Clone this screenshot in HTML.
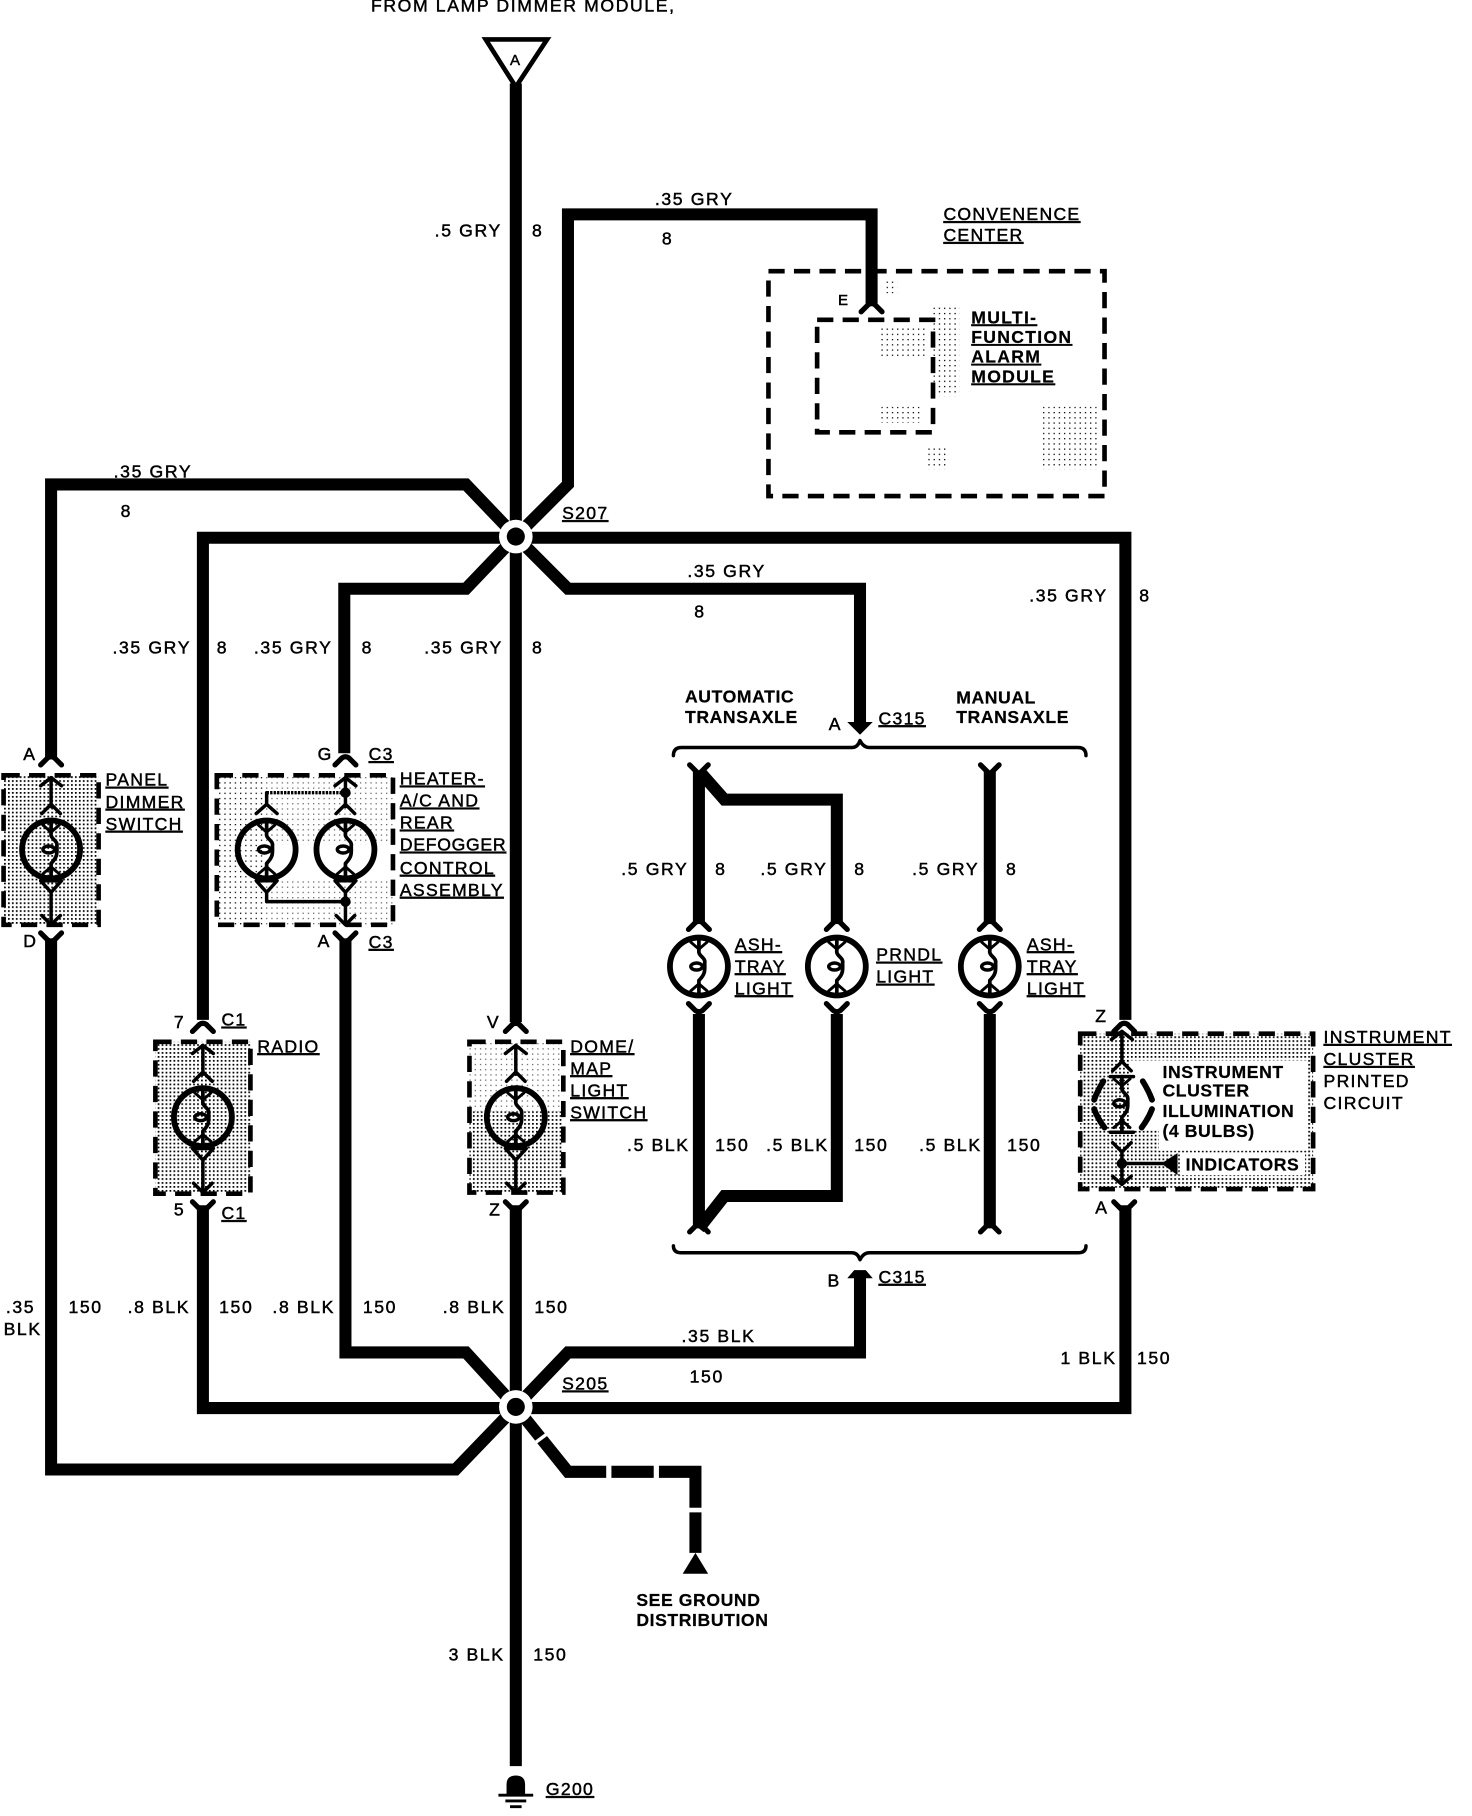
<!DOCTYPE html>
<html><head><meta charset="utf-8"><style>
html,body{margin:0;padding:0;background:#fff}
svg{display:block}
text{font-family:"Liberation Sans",sans-serif;font-size:15.2px;letter-spacing:1.4px;fill:#000;stroke:#000;stroke-width:.4px}
.b{font-weight:bold;letter-spacing:.5px;stroke-width:.2px}
.u{letter-spacing:1.1px;text-decoration:underline;text-underline-offset:3px;text-decoration-thickness:2px}
.w{fill:none;stroke:#000;stroke-width:10.4}
.t{fill:none;stroke:#000;stroke-width:3;stroke-linecap:round;stroke-linejoin:round}
.c{fill:none;stroke:#000;stroke-width:4.5;stroke-linecap:round;stroke-linejoin:round}
.d{fill:none;stroke:#000;stroke-width:4;stroke-dasharray:14 8}
</style></head><body>
<svg xmlns="http://www.w3.org/2000/svg" width="1472" height="1816" viewBox="0 0 1270 1567">
<defs>
<pattern id="dots" width="3.4" height="3.4" patternUnits="userSpaceOnUse"><rect width="3.4" height="3.4" fill="#fff"/><rect x="0" y="0" width="1.5" height="1.5" fill="#000"/></pattern>
<pattern id="sparse" width="4.5" height="4.5" patternUnits="userSpaceOnUse"><rect x="0" y="0" width="1.1" height="1.1" fill="#000"/></pattern>
<path id="cu" class="c" d="M-9,5 L-3,-1 Q0,-3 3,-1 L9,5"/>
<path id="cd" class="c" d="M-9,-5 L-3,1 Q0,3 3,1 L9,-5"/>
<g id="fil">
<path class="t" d="M0,-23 V-14 C-1,-9 6,-8 5,-3 C5,3 6,6 0,12 V23" style="stroke-width:3.2"/>
<ellipse cx="-2" cy="0" rx="5" ry="3" fill="none" stroke="#000" stroke-width="3"/>
<path class="t" d="M-7,-21 L0,-15 L7,-21 M-7,21 L0,15 L7,21" style="stroke-width:2.5"/>
</g>
<g id="bulb"><circle r="25" fill="none" stroke="#000" stroke-width="5"/><use href="#fil"/></g>
<g id="sw">
<path class="t" d="M-9,-55 L0,-62 L9,-55 M0,-62 V-37 M-8,-31 L0,-39 L8,-31"/>
<use href="#bulb"/>
<path class="t" d="M-9,27 L0,37 L9,27 Z M0,37 V65 M-8,57 L0,65 L8,57"/>
</g>
</defs>
<rect width="1270" height="1567" fill="#fff"/>

<!-- shaded boxes -->
<rect x="3" y="669" width="82" height="129" fill="url(#dots)"/>
<rect x="187" y="669" width="40" height="129" fill="url(#sparse)"/>
<rect x="227" y="669" width="112" height="60" fill="url(#sparse)" opacity=".6"/>
<rect x="227" y="760" width="112" height="38" fill="url(#sparse)" opacity=".6"/>
<rect x="134" y="899" width="82" height="131" fill="url(#dots)"/>
<rect x="405" y="899" width="81" height="60" fill="url(#sparse)" opacity=".6"/>
<rect x="405" y="959" width="81" height="70" fill="url(#dots)"/>
<rect x="932" y="892" width="201" height="134" fill="url(#dots)"/>
<rect x="1000" y="915" width="128" height="78" fill="#fff"/>
<rect x="975" y="915" width="30" height="60" fill="#fff"/>
<rect x="1018" y="996" width="108" height="18" fill="#fff"/>
<rect x="897" y="351" width="52" height="54" fill="url(#sparse)"/>
<rect x="805" y="265" width="23" height="77" fill="url(#sparse)"/>
<rect x="759" y="282" width="41" height="26" fill="url(#sparse)"/>
<rect x="759" y="351" width="35" height="14" fill="url(#sparse)"/>
<rect x="800" y="386" width="17" height="19" fill="url(#sparse)"/>
<rect x="762" y="241" width="12" height="12" fill="url(#sparse)"/>

<!-- wires -->
<path class="w" d="M445,72 V882 M445,1040 V1524"/>
<path class="w" d="M445,463 L490,418 V185 H752 V262"/>
<path class="w" d="M44,655 V418 H402 L445,463"/>
<path class="w" d="M175,880 V464 H971 V880"/>
<path class="w" d="M445,463 L402,508 H297 V650"/>
<path class="w" d="M445,463 L490,508 H742 V628"/>
<path class="w" d="M175,1040 V1215 H971 V1040"/>
<path class="w" d="M298,812 V1167 H402 L445,1214"/>
<path class="w" d="M445,1214 L490,1167 H742 V1100"/>
<path class="w" d="M44,812 V1268 H393 L445,1214"/>
<path class="w" d="M445,1214 L490,1270 H600 V1340"/>
<path d="M459,1247 L475,1235" stroke="#fff" stroke-width="3" fill="none"/>
<rect x="523" y="1262" width="4.5" height="16" fill="#fff"/>
<rect x="564" y="1262" width="4.5" height="16" fill="#fff"/>
<rect x="592" y="1301" width="16" height="4" fill="#fff"/>
<path d="M600,1340 L589,1358 H611 Z"/>

<!-- nodes -->
<circle cx="445" cy="463" r="14.5" fill="#fff"/><circle cx="445" cy="463" r="7.8" fill="#000"/>
<circle cx="445" cy="1214" r="14.5" fill="#fff"/><circle cx="445" cy="1214" r="7.8" fill="#000"/>

<!-- dashed boxes -->
<rect class="d" x="3" y="669" width="82" height="129"/>
<rect class="d" x="187" y="669" width="152" height="129"/>
<rect class="d" x="134" y="899" width="82" height="131"/>
<rect class="d" x="405" y="899" width="81" height="130"/>
<rect class="d" x="932" y="892" width="201" height="134"/>
<rect class="d" x="663" y="234" width="290" height="194"/>
<rect class="d" x="705" y="276" width="100" height="97"/>

<!-- top triangle -->
<path d="M419,34 H472 L445,75 Z" fill="#fff" stroke="#000" stroke-width="4"/>
<text x="440" y="56" style="font-size:13px;letter-spacing:0">A</text>

<!-- connectors outer -->
<use href="#cu" x="44" y="655"/><use href="#cd" x="44" y="810"/>
<use href="#cu" x="298" y="655"/><use href="#cd" x="298" y="810"/>
<use href="#cu" x="175" y="885"/><use href="#cd" x="175" y="1042"/>
<use href="#cu" x="445" y="885"/><use href="#cd" x="445" y="1042"/>
<use href="#cu" x="970" y="885"/><use href="#cd" x="970" y="1042"/>
<use href="#cu" x="752" y="264"/>

<!-- switch units -->
<use href="#sw" x="44" y="733"/>
<use href="#sw" x="175" y="964"/>
<use href="#sw" x="445" y="964"/>
<use href="#bulb" x="230" y="733"/>
<use href="#sw" x="298" y="733"/>
<path class="t" d="M221,702 L230,694 L239,702 M230,694 V684"/>
<path d="M230,684 H298" stroke="#000" stroke-width="3" stroke-dasharray="2 1"/>
<path class="t" d="M221,760 L230,770 L239,760 Z M230,770 V778 H298"/>
<circle cx="298" cy="684" r="4.5"/><circle cx="298" cy="778" r="4.5"/>

<!-- transaxle -->
<path class="t" d="M581,652 Q581,645 588,645 H735 Q740,645 742,639 Q745,645 750,645 H930 Q937,645 937,652"/>
<path class="t" d="M581,1075 Q581,1081 588,1081 H735 Q740,1081 742,1087 Q745,1081 750,1081 H930 Q937,1081 937,1075"/>
<path d="M731,623 H753 L742,634 Z"/>
<path d="M731,1103 L737,1096 H747 L753,1103 Z"/>
<path class="w" d="M603,665 V795"/>
<path class="w" d="M603,665 L625,690 H722 V795"/>
<path class="w" d="M603,875 V1060"/>
<path class="w" d="M603,1060 L625,1032 H722 V875"/>
<path class="w" d="M854,665 V795 M854,875 V1060"/>
<use href="#cu" x="603" y="797"/><use href="#cu" x="722" y="797"/><use href="#cu" x="854" y="797"/>
<use href="#cd" x="603" y="871"/><use href="#cd" x="722" y="871"/><use href="#cd" x="854" y="871"/>
<path class="c" d="M595,660 L603,668 L611,660 M595,1063 L603,1055 L611,1063 M846,660 L854,668 L862,660 M846,1063 L854,1055 L862,1063"/>
<use href="#bulb" x="603" y="834"/><use href="#bulb" x="722" y="834"/><use href="#bulb" x="854" y="834"/>

<!-- instrument cluster bulb -->
<path d="M952,933 Q947,941 944,949 M944,957 Q947,965 953,973 M986,933 Q991,941 994,949 M994,957 Q991,965 985,973" fill="none" stroke="#000" stroke-width="5" stroke-linecap="round"/>
<use href="#fil" x="968" y="952"/>
<path class="t" d="M959,897 L968,890 L977,897 M968,890 V916 M960,924 L968,916 L976,924 M958,929 H978 M958,977 H978 M960,986 L968,994 L976,986 M968,994 V1022 M960,1015 L968,1022 L976,1015 M968,1004 H1005"/>
<circle cx="968" cy="1004" r="4.5"/>
<path d="M1016,995 V1014 L1002,1004 Z"/>

<!-- text -->
<text x="320" y="10">FROM LAMP DIMMER MODULE,</text>
<text x="375" y="204">.5 GRY</text><text x="459" y="204">8</text>
<text x="565" y="177">.35 GRY</text><text x="571" y="211">8</text>
<text class="u" x="814" y="190">CONVENENCE</text>
<text class="u" x="814" y="208">CENTER</text>
<text class="b u" x="838" y="279">MULTI-</text>
<text class="b u" x="838" y="296">FUNCTION</text>
<text class="b u" x="838" y="313">ALARM</text>
<text class="b u" x="838" y="330">MODULE</text>
<text x="723" y="263" style="font-size:13px">E</text>
<text x="98" y="412">.35 GRY</text><text x="104" y="446">8</text>
<text class="u" x="485" y="448">S207</text>
<text x="97" y="564">.35 GRY</text><text x="187" y="564">8</text>
<text x="219" y="564">.35 GRY</text><text x="312" y="564">8</text>
<text x="366" y="564">.35 GRY</text><text x="459" y="564">8</text>
<text x="593" y="498">.35 GRY</text><text x="599" y="533">8</text>
<text x="888" y="519">.35 GRY</text><text x="983" y="519">8</text>
<text class="b" x="591" y="606">AUTOMATIC</text><text class="b" x="591" y="624">TRANSAXLE</text>
<text class="b" x="825" y="607">MANUAL</text><text class="b" x="825" y="624">TRANSAXLE</text>
<text x="715" y="630">A</text><text class="u" x="758" y="625">C315</text>
<text x="20" y="656">A</text><text x="274" y="656">G</text><text class="u" x="318" y="656">C3</text>
<text class="u" x="91" y="678">PANEL</text><text class="u" x="91" y="697">DIMMER</text><text class="u" x="91" y="716">SWITCH</text>
<text class="u" x="345" y="677">HEATER-</text><text class="u" x="345" y="696">A/C AND</text><text class="u" x="345" y="715">REAR</text><text class="u" x="345" y="734" style="letter-spacing:.6px">DEFOGGER</text><text class="u" x="345" y="754">CONTROL</text><text class="u" x="345" y="773">ASSEMBLY</text>
<text x="20" y="817">D</text><text x="274" y="817">A</text><text class="u" x="318" y="818">C3</text>
<text x="536" y="755">.5 GRY</text><text x="617" y="755">8</text>
<text x="656" y="755">.5 GRY</text><text x="737" y="755">8</text>
<text x="787" y="755">.5 GRY</text><text x="868" y="755">8</text>
<text class="u" x="634" y="820">ASH-</text><text class="u" x="634" y="839">TRAY</text><text class="u" x="634" y="858">LIGHT</text>
<text class="u" x="756" y="829">PRNDL</text><text class="u" x="756" y="848">LIGHT</text>
<text class="u" x="886" y="820">ASH-</text><text class="u" x="886" y="839">TRAY</text><text class="u" x="886" y="858">LIGHT</text>
<text x="150" y="887">7</text><text class="u" x="191" y="885">C1</text><text class="u" x="222" y="908">RADIO</text>
<text x="420" y="887">V</text>
<text class="u" x="492" y="908">DOME/</text><text class="u" x="492" y="927">MAP</text><text class="u" x="492" y="946">LIGHT</text><text class="u" x="492" y="965">SWITCH</text>
<text x="945" y="882">Z</text>
<text class="u" x="1142" y="900">INSTRUMENT</text><text class="u" x="1142" y="919">CLUSTER</text><text x="1142" y="938" style="letter-spacing:1.1px">PRINTED</text><text x="1142" y="957" style="letter-spacing:1.1px">CIRCUIT</text>
<text class="b" x="1003" y="930">INSTRUMENT</text><text class="b" x="1003" y="946">CLUSTER</text><text class="b" x="1003" y="964">ILLUMINATION</text><text class="b" x="1003" y="981">(4 BULBS)</text>
<text class="b" x="1023" y="1010">INDICATORS</text>
<text x="541" y="993">.5 BLK</text><text x="617" y="993">150</text>
<text x="661" y="993">.5 BLK</text><text x="737" y="993">150</text>
<text x="793" y="993">.5 BLK</text><text x="869" y="993">150</text>
<text x="945" y="1047">A</text><text x="150" y="1049">5</text><text class="u" x="191" y="1052">C1</text><text x="422" y="1049">Z</text>
<text x="714" y="1110">B</text><text class="u" x="758" y="1107">C315</text>
<text x="5" y="1133">.35</text><text x="3" y="1152">BLK</text><text x="59" y="1133">150</text>
<text x="110" y="1133">.8 BLK</text><text x="189" y="1133">150</text>
<text x="235" y="1133">.8 BLK</text><text x="313" y="1133">150</text>
<text x="382" y="1133">.8 BLK</text><text x="461" y="1133">150</text>
<text x="588" y="1158">.35 BLK</text><text x="595" y="1193">150</text>
<text class="u" x="485" y="1199">S205</text>
<text x="915" y="1177">1 BLK</text><text x="981" y="1177">150</text>
<text class="b" x="549" y="1386">SEE GROUND</text><text class="b" x="549" y="1403">DISTRIBUTION</text>
<text x="387" y="1433">3 BLK</text><text x="460" y="1433">150</text>
<text class="u" x="471" y="1549">G200</text>

<!-- ground -->
<path d="M437,1548 V1540 Q437,1532 445,1532 Q453,1532 453,1540 V1548 Z"/>
<path d="M430,1549 H460 M436,1554 H454 M440,1559 H450" stroke="#000" stroke-width="2.5"/>
</svg>
</body></html>
